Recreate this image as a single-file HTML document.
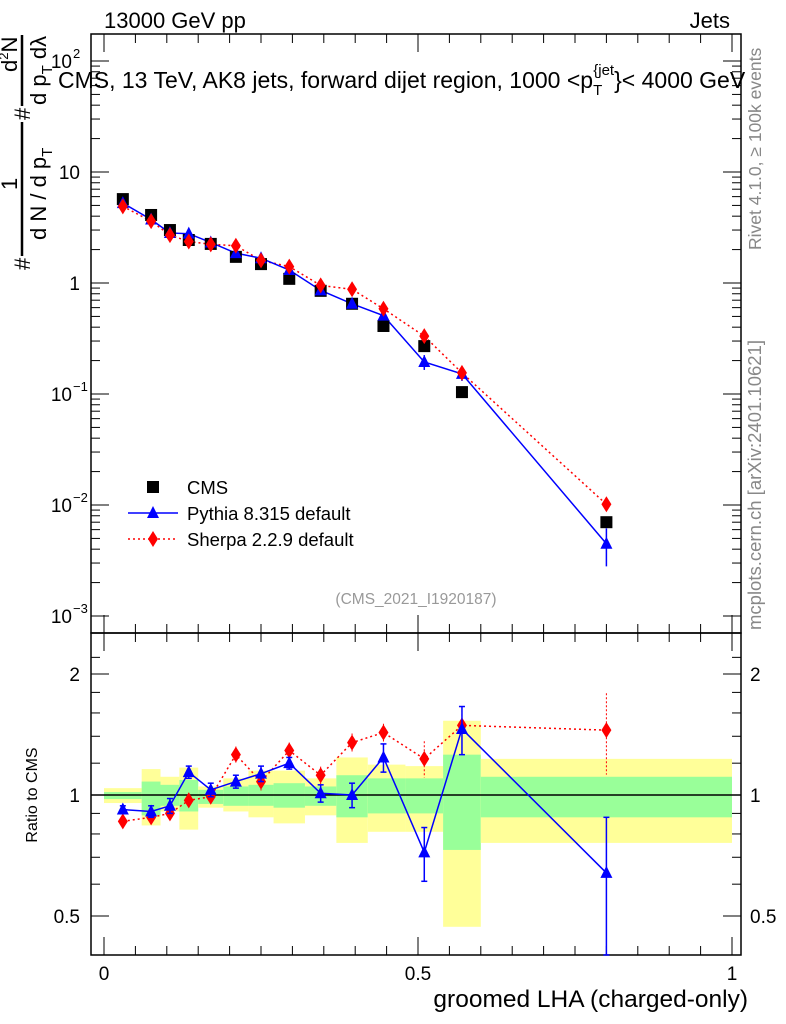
<!DOCTYPE html>
<html><head><meta charset="utf-8">
<style>
body{margin:0;background:#fff;}
svg{display:block;font-family:"Liberation Sans",sans-serif;}
</style></head>
<body>
<svg id="c" width="786" height="1024" viewBox="0 0 786 1024"></svg>
<script>
const edges=[0,0.06,0.09,0.12,0.15,0.19,0.23,0.27,0.32,0.37,0.42,0.48,0.54,0.60,1.0];
const xCenters=[0.03,0.075,0.105,0.135,0.17,0.21,0.25,0.295,0.345,0.395,0.445,0.51,0.57,0.80];
const cmsVals=[5.7,4.1,3.0,2.44,2.25,1.72,1.48,1.09,0.85,0.65,0.41,0.27,0.104,0.0070];
const pythiaRatio=[0.92,0.91,0.94,1.14,1.03,1.08,1.13,1.2,1.01,1.0,1.24,0.72,1.46,0.64];
const pythiaErr=[0.02,0.03,0.04,0.04,0.04,0.04,0.05,0.04,0.05,0.07,0.1,0.11,0.2,0.24];
const sherpaRatio=[0.86,0.88,0.9,0.97,0.99,1.26,1.08,1.29,1.12,1.35,1.43,1.23,1.49,1.45];
const sherpaErr=[0.01,0.02,0.02,0.02,0.02,0.03,0.03,0.03,0.03,0.04,0.04,0.1,0.1,0.3];
const yellowHi=[1.04,1.16,1.11,1.17,1.05,1.10,1.15,1.15,1.10,1.24,1.19,1.18,1.53,1.23];
const yellowLo=[0.955,0.84,0.91,0.82,0.93,0.91,0.88,0.85,0.89,0.76,0.81,0.81,0.47,0.76];
const greenHi=[1.017,1.08,1.06,1.09,1.03,1.05,1.06,1.07,1.05,1.12,1.10,1.10,1.26,1.11];
const greenLo=[0.977,0.89,0.94,0.91,0.95,0.94,0.94,0.93,0.94,0.88,0.90,0.90,0.73,0.88];

const svg=document.getElementById('c');
const NS='http://www.w3.org/2000/svg';
function mk(tag,attrs,parent){const e=document.createElementNS(NS,tag);for(const k in attrs)e.setAttribute(k,attrs[k]);(parent||svg).appendChild(e);return e;}
const X=v=>104+628*v;
const Y=v=>283-111*Math.log10(v);
const R=v=>795-121*Math.log2(v);
const L=91,Rt=741,T=34,M=633,B=955;

const gB=mk('g',{});


for(let i=0;i<edges.length-1;i++){
  const x0=X(edges[i]),x1=X(edges[i+1]);
  const yr=mk('rect',{x:x0,y:R(yellowHi[i]),width:x1-x0,height:R(yellowLo[i])-R(yellowHi[i]),fill:'#ffff99'},gB);
  
  
  const gr=mk('rect',{x:x0,y:R(greenHi[i]),width:x1-x0,height:R(greenLo[i])-R(greenHi[i]),fill:'#99ff99'},gB);
  
  
}
mk('line',{x1:L,x2:Rt,y1:R(1),y2:R(1),stroke:'#000','stroke-width':1.5});

const f1=mk('rect',{x:L,y:T,width:Rt-L,height:M-T,fill:'none',stroke:'#000','stroke-width':1.5});


const f2=mk('rect',{x:L,y:M,width:Rt-L,height:B-M,fill:'none',stroke:'#000','stroke-width':1.5});



for(let d=-3;d<=2;d++){
  for(let m=1;m<10;m++){
    const v=m*Math.pow(10,d);const y=Y(v);
    if(y<T||y>M)continue;
    const len=m==1?18:9;
    mk('line',{x1:L,x2:L+len,y1:y,y2:y,stroke:'#000'});
    mk('line',{x1:Rt,x2:Rt-len,y1:y,y2:y,stroke:'#000'});
  }
}
const ylab=[[100,'10','2'],[10,'10',''],[1,'1',''],[0.1,'10','−1'],[0.01,'10','−2'],[0.001,'10','−3']];
ylab.forEach(l=>{
  const t=mk('text',{x:l[2]?72:80,y:Y(l[0])+7,'font-size':19,'text-anchor':'end'});
  t.textContent=l[1];
  
  
  if(l[2]){const s=mk('text',{x:73,y:Y(l[0])-3,'font-size':13});s.textContent=l[2];}
});
[0.5,0.6,0.7,0.8,0.9,1,1.2,1.4,1.6,1.8,2,2.2].forEach(v=>{
  const y=R(v);if(y<M||y>B)return;
  const len=(v==0.5||v==1||v==2)?18:9;
  mk('line',{x1:L,x2:L+len,y1:y,y2:y,stroke:'#000'});
  mk('line',{x1:Rt,x2:Rt-len,y1:y,y2:y,stroke:'#000'});
});
[[2,'2'],[1,'1'],[0.5,'0.5']].forEach(l=>{
  const a=mk('text',{x:80,y:R(l[0])+7,'font-size':19,'text-anchor':'end'});a.textContent=l[1];
  
  
  const b=mk('text',{x:750,y:R(l[0])+7,'font-size':19});b.textContent=l[1];
});
for(let i=0;i<=20;i++){
  const v=i*0.05;const x=X(v);const len=i%10==0?18:9;
  mk('line',{x1:x,x2:x,y1:B,y2:B-len,stroke:'#000'});
  mk('line',{x1:x,x2:x,y1:M,y2:M-len,stroke:'#000'});
  mk('line',{x1:x,x2:x,y1:M,y2:M+len,stroke:'#000'});
  mk('line',{x1:x,x2:x,y1:T,y2:T+len,stroke:'#000'});
}
[[0,'0'],[0.5,'0.5'],[1,'1']].forEach(l=>{
  const t=mk('text',{x:X(l[0]),y:980,'font-size':19,'text-anchor':'middle'});t.textContent=l[1];
  
  
});

function poly(pts,col,dash,name){
  const p=mk('polyline',{points:pts.map(q=>q.join(',')).join(' '),fill:'none',stroke:col,'stroke-width':1.5,'stroke-dasharray':dash||''});
  
  
}
function tri(x,y,col){return mk('polygon',{points:`${x},${y-7} ${x-6},${y+5} ${x+6},${y+5}`,fill:col});}
function dia(x,y,col){return mk('polygon',{points:`${x},${y-8} ${x-5},${y} ${x},${y+8} ${x+5},${y}`,fill:col});}
const sherpaTop=cmsVals.map((v,i)=>[X(xCenters[i]),Y(v*sherpaRatio[i])]);
const pythiaTop=cmsVals.map((v,i)=>[X(xCenters[i]),Y(v*pythiaRatio[i])]);
poly(sherpaTop,'#f00','2,3','sherpa-line');
poly(pythiaTop,'#00f','','pythia-line');
cmsVals.forEach((v,i)=>{
  const r=mk('rect',{x:X(xCenters[i])-6,y:Y(v)-6,width:12,height:12,fill:'#000'});
  
  
});
pythiaTop.forEach((p,i)=>{
  const ylo=Y(cmsVals[i]*(pythiaRatio[i]-pythiaErr[i])),yhi=Y(cmsVals[i]*(pythiaRatio[i]+pythiaErr[i]));
  mk('line',{x1:p[0],x2:p[0],y1:yhi,y2:ylo,stroke:'#00f','stroke-width':1.5});
  const t=tri(p[0],p[1],'#00f');
  
  
});
sherpaTop.forEach(p=>{
  const d=dia(p[0],p[1],'#f00');
  
  
});
const sherR=sherpaRatio.map((v,i)=>[X(xCenters[i]),R(v)]);
const pyR=pythiaRatio.map((v,i)=>[X(xCenters[i]),Math.min(R(v),B)]);
poly(sherR,'#f00','2,3','sherpa-ratio-line');
poly(pyR,'#00f','','pythia-ratio-line');
sherR.forEach((p,i)=>{
  const y1=R(sherpaRatio[i]+sherpaErr[i]),y2=R(sherpaRatio[i]-sherpaErr[i]);
  mk('line',{x1:p[0],x2:p[0],y1:y1-4,y2:y2+4,stroke:'#f00','stroke-dasharray':'2,2'});
  const d=dia(p[0],p[1],'#f00');
  
  
});
pyR.forEach((p,i)=>{
  const y1=R(pythiaRatio[i]+pythiaErr[i]),y2=Math.min(B,R(pythiaRatio[i]-pythiaErr[i]));
  mk('line',{x1:p[0],x2:p[0],y1:y1,y2:y2,stroke:'#00f','stroke-width':1.5});
  mk('line',{x1:p[0]-3,x2:p[0]+3,y1:y1,y2:y1,stroke:'#00f','stroke-width':1.5});
  mk('line',{x1:p[0]-3,x2:p[0]+3,y1:y2,y2:y2,stroke:'#00f','stroke-width':1.5});
  const t=tri(p[0],p[1],'#00f');
  
  
});
</script>
<svg width="786" height="1024" style="position:absolute;left:0;top:0" font-family="Liberation Sans, sans-serif">
  <text x="104" y="28" font-size="22">13000 GeV pp</text>
  <text x="730" y="28" font-size="22" text-anchor="end">Jets</text>
  <text x="58" y="88" font-size="23">CMS, 13 TeV, AK8 jets, forward dijet region, 1000 &lt;p<tspan font-size="15" dy="7">T</tspan><tspan font-size="15" dy="-20" dx="-9">{jet</tspan><tspan dy="13">}&lt; 4000 GeV</tspan></text>
  <g transform="translate(22,270) rotate(-90)">
    <line x1="7" x2="235" y1="0" y2="0" stroke="#000" stroke-width="2.5"/>
    <rect x="-2" y="-9" width="16" height="18" fill="#fff"/>
    <text x="0" y="8" font-size="22">#</text>
    <text x="80" y="-5" font-size="22">1</text>
    <text x="30" y="24" font-size="22">d N / d p<tspan font-size="15" dy="6">T</tspan></text>
    <rect x="148" y="-9" width="16" height="18" fill="#fff"/>
    <text x="150" y="8" font-size="22">#</text>
    <text x="198" y="-5" font-size="22">d<tspan font-size="13" dy="-9">2</tspan><tspan dy="9">N</tspan></text>
    <text x="165" y="24" font-size="22">d p<tspan font-size="15" dy="6">T</tspan><tspan dy="-6"> d&#955;</tspan></text>
  </g>
  <text transform="translate(761,250) rotate(-90)" font-size="17.5" fill="#888">Rivet 4.1.0, ≥ 100k events</text>
  <text transform="translate(761,630) rotate(-90)" font-size="18.5" fill="#888">mcplots.cern.ch [arXiv:2401.10621]</text>
  <text x="416" y="604" font-size="15.5" fill="#999" text-anchor="middle">(CMS_2021_I1920187)</text>
  <g>
    <rect x="147" y="481" width="12" height="12" fill="#000"/>
    <text x="187" y="494" font-size="18.5">CMS</text>
    <line x1="128" x2="178" y1="513" y2="513" stroke="#00f" stroke-width="1.5"/>
    <polygon points="153,506 147,518 159,518" fill="#00f"/>
    <text x="187" y="520" font-size="18.5">Pythia 8.315 default</text>
    <line x1="128" x2="178" y1="539" y2="539" stroke="#f00" stroke-width="1.5" stroke-dasharray="2,3"/>
    <polygon points="153,531 148,539 153,547 158,539" fill="#f00"/>
    <text x="187" y="546" font-size="18.5">Sherpa 2.2.9 default</text>
  </g>
  <text transform="translate(37,795) rotate(-90)" font-size="16" text-anchor="middle">Ratio to CMS</text>
  <text x="748" y="1007" font-size="24.5" text-anchor="end">groomed LHA (charged-only)</text>
</svg>
</body></html>
